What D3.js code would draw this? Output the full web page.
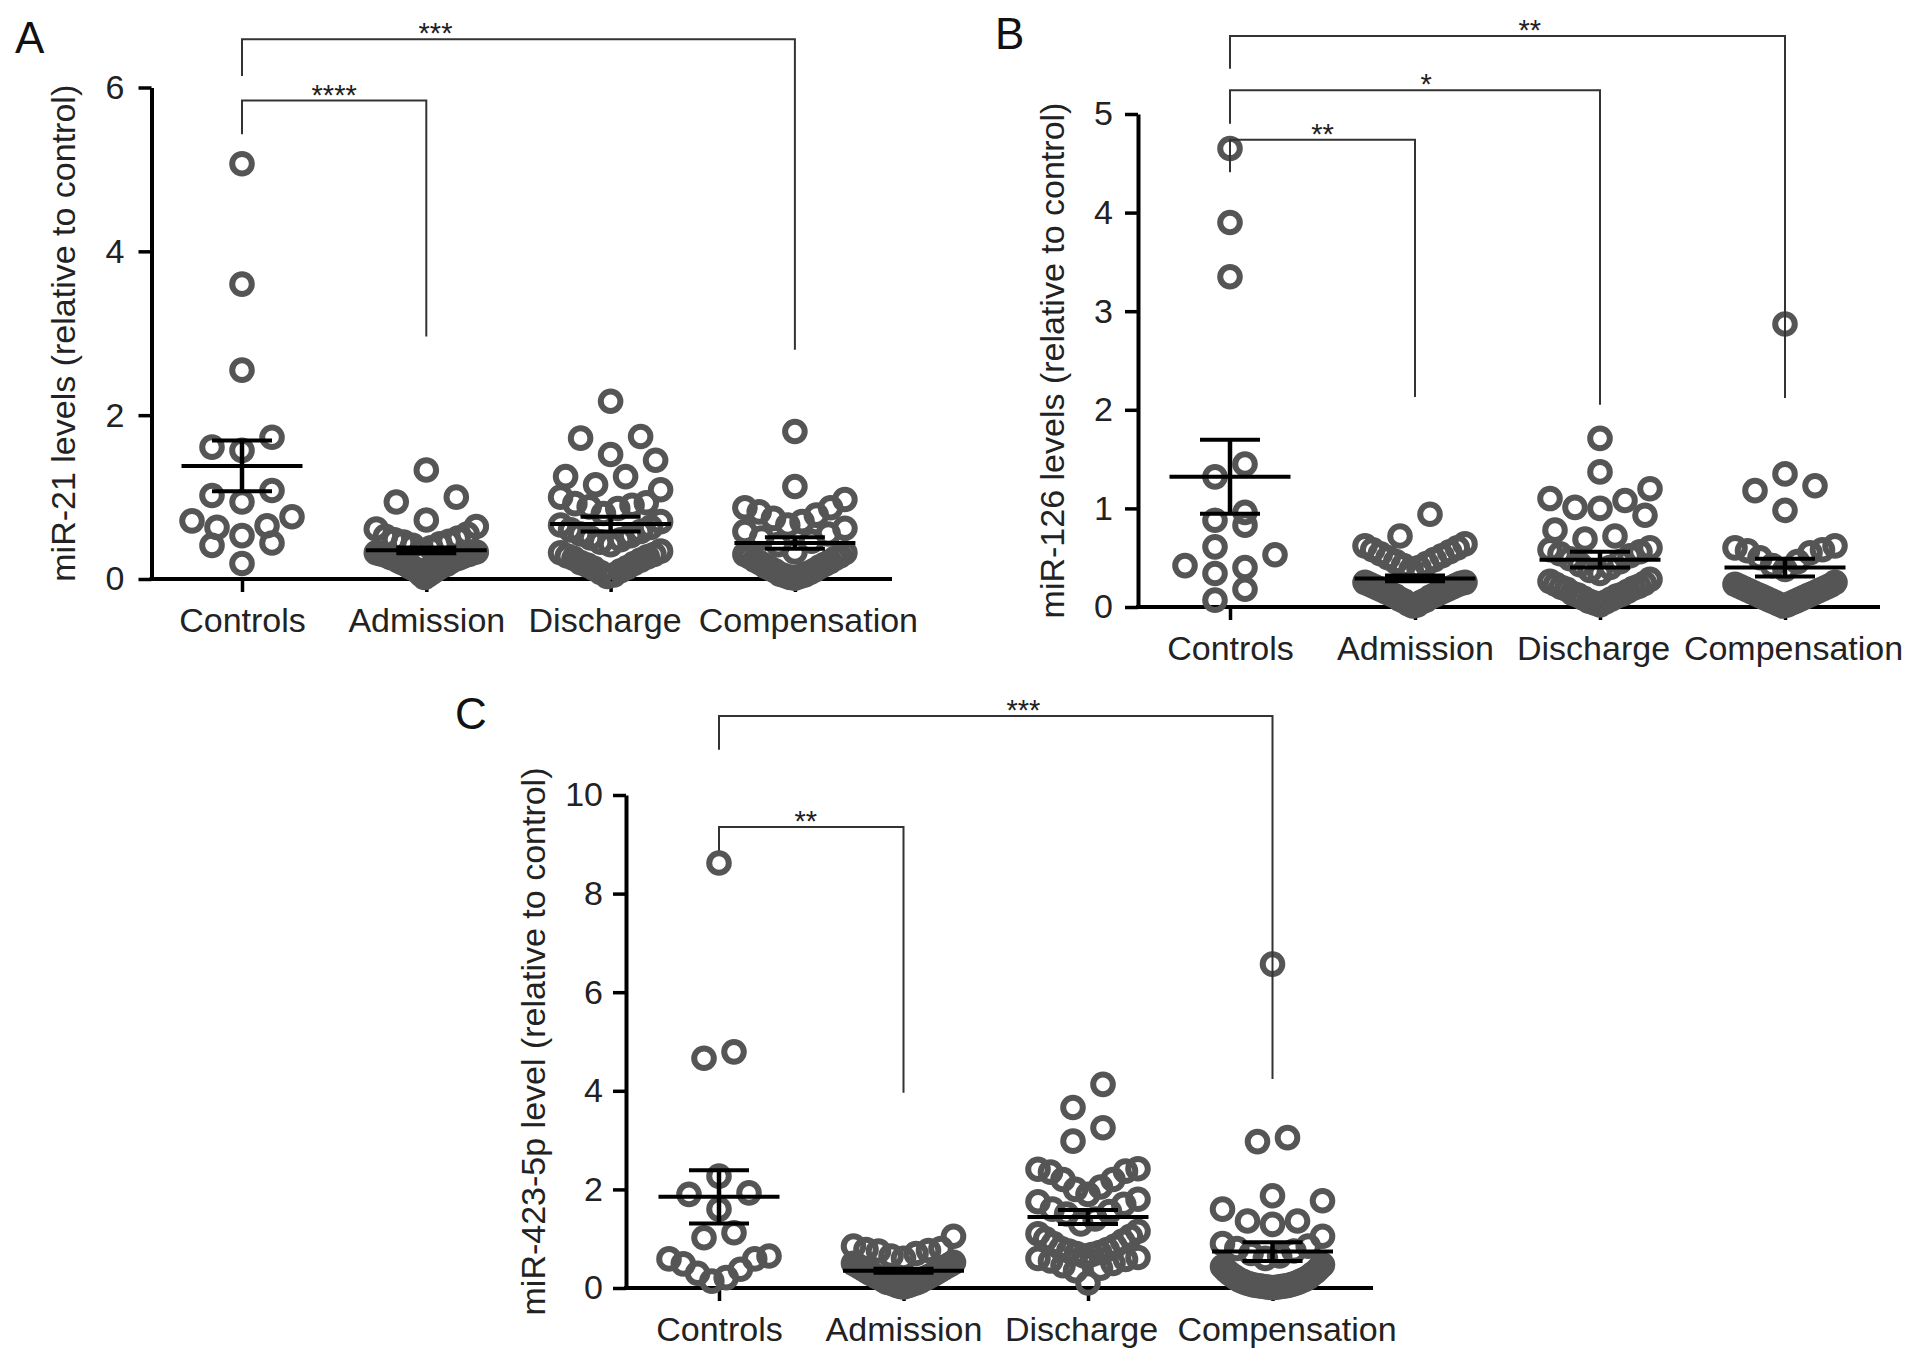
<!DOCTYPE html>
<html>
<head>
<meta charset="utf-8">
<script src="https://cdn.jsdelivr.net/npm/d3@7"></script>
<style>
  html, body { margin: 0; padding: 0; background: #fff; }
  svg { display: block; font-family: "Liberation Sans", Arial, Helvetica, sans-serif; }
</style>
</head>
<body>
<svg id="chart" width="1913" height="1361"></svg>
<script>
const groups = ["Controls", "Admission", "Discharge", "Compensation"];

// A - miR-21
const a_controls = [5.07, 3.6, 2.55, 1.73, 1.61, 1.57, 1.08, 1.02, 0.94, 0.76, 0.71, 0.65, 0.63, 0.53, 0.44, 0.41, 0.19];
const a_admission = [1.33, 1.0, 0.94, 0.72, 0.64, 0.61, 0.55, 0.52, 0.5, 0.48, 0.46, 0.45, 0.43, 0.41, 0.38, 0.34,
  0.33, 0.32, 0.32, 0.31, 0.3, 0.3, 0.29, 0.28, 0.27, 0.26, 0.25, 0.25, 0.24, 0.22, 0.21, 0.2, 0.18, 0.18,
  0.17, 0.15, 0.14, 0.13, 0.11, 0.1, 0.08, 0.06, 0.05, 0.02];
const a_discharge = [2.17, 1.74, 1.72, 1.52, 1.45, 1.25, 1.25, 1.15, 1.09, 1.0, 0.93, 0.92, 0.9, 0.88, 0.86, 0.8,
  0.7, 0.66, 0.63, 0.6, 0.58, 0.55, 0.53, 0.5, 0.48, 0.45, 0.42, 0.34, 0.32, 0.3, 0.28, 0.27, 0.25, 0.23,
  0.2, 0.19, 0.17, 0.14, 0.13, 0.1, 0.08, 0.05, 0.03];
const a_compensation = [1.8, 1.13, 0.97, 0.87, 0.87, 0.82, 0.78, 0.74, 0.7, 0.66, 0.62, 0.58, 0.55, 0.5, 0.46, 0.42,
  0.33, 0.32, 0.3, 0.28, 0.27, 0.25, 0.23, 0.21, 0.2, 0.18, 0.16, 0.15, 0.13, 0.11, 0.1, 0.08, 0.06, 0.05,
  0.04, 0.03, 0.02, 0.01];
const a_means = [1.38, 0.35, 0.67, 0.44];
const a_sems = [0.31, 0.035, 0.09, 0.07];
const a_ticks = [0, 2, 4, 6];
const a_stars = ["****", "***"];

// B - miR-126
const b_controls = [4.65, 3.9, 3.35, 1.45, 1.32, 0.96, 0.88, 0.83, 0.61, 0.53, 0.42, 0.4, 0.34, 0.18, 0.07];
const b_admission = [0.94, 0.72, 0.64, 0.62, 0.6, 0.58, 0.56, 0.54, 0.52, 0.5, 0.48, 0.46, 0.44, 0.42, 0.4, 0.38,
  0.25, 0.25, 0.24, 0.23, 0.22, 0.21, 0.2, 0.19, 0.18, 0.17, 0.16, 0.15, 0.14, 0.13, 0.12, 0.11, 0.1,
  0.08, 0.07, 0.06, 0.05, 0.03, 0.02, 0.01];
const b_discharge = [1.71, 1.37, 1.2, 1.1, 1.08, 1.01, 1.0, 0.93, 0.78, 0.72, 0.69, 0.6, 0.58, 0.56, 0.54, 0.52,
  0.49, 0.46, 0.43, 0.4, 0.37, 0.34, 0.28, 0.26, 0.24, 0.23, 0.21, 0.2, 0.19, 0.18, 0.16, 0.14, 0.13,
  0.12, 0.11, 0.09, 0.08, 0.06, 0.05, 0.04, 0.02];
const b_compensation = [2.87, 1.35, 1.23, 1.18, 0.98, 0.62, 0.6, 0.58, 0.57, 0.55, 0.5, 0.46, 0.42, 0.38,
  0.25, 0.23, 0.22, 0.21, 0.2, 0.19, 0.18, 0.17, 0.16, 0.15, 0.14, 0.13, 0.12, 0.11, 0.1, 0.09, 0.08,
  0.07, 0.06, 0.05, 0.04, 0.03, 0.02, 0.01];
const b_means = [1.32, 0.29, 0.48, 0.4];
const b_sems = [0.375, 0.03, 0.08, 0.09];
const b_ticks = [0, 1, 2, 3, 4, 5];
const b_stars = ["**", "*", "**"];

// C - miR-423-5p
const c_controls = [8.62, 4.79, 4.66, 2.27, 1.93, 1.9, 1.6, 1.12, 1.02, 0.65, 0.59, 0.59, 0.49, 0.38, 0.3, 0.21, 0.14];
const c_admission = [1.05, 0.85, 0.8, 0.78, 0.76, 0.75, 0.7, 0.65, 0.6, 0.52, 0.5, 0.48, 0.46, 0.44, 0.42, 0.4,
  0.38, 0.36, 0.34, 0.32, 0.3, 0.28, 0.27, 0.25, 0.23, 0.21, 0.2, 0.18, 0.16, 0.14, 0.12, 0.11, 0.1,
  0.09, 0.08, 0.06, 0.05, 0.04, 0.03, 0.02];
const c_discharge = [4.13, 3.66, 3.25, 2.98, 2.42, 2.41, 2.37, 2.35, 2.2, 2.2, 2.05, 2.0, 1.9, 1.8, 1.75, 1.7,
  1.6, 1.55, 1.5, 1.4, 1.3, 1.15, 1.1, 1.05, 1.0, 0.95, 0.9, 0.85, 0.8, 0.78, 0.75, 0.72, 0.7, 0.68,
  0.65, 0.62, 0.6, 0.58, 0.55, 0.5, 0.45, 0.4, 0.35, 0.1];
const c_compensation = [6.57, 3.05, 2.97, 1.87, 1.77, 1.6, 1.36, 1.36, 1.29, 1.05, 0.9, 0.85, 0.8, 0.75, 0.7, 0.65,
  0.6, 0.47, 0.43, 0.4, 0.36, 0.33, 0.3, 0.28, 0.25, 0.22, 0.2, 0.18, 0.16, 0.15, 0.13, 0.12, 0.1,
  0.09, 0.08, 0.07, 0.06, 0.05, 0.05, 0.04, 0.04, 0.03, 0.03, 0.02, 0.02, 0.01, 0.01];
const c_means = [1.85, 0.35, 1.44, 0.74];
const c_sems = [0.54, 0.04, 0.14, 0.19];
const c_ticks = [0, 2, 4, 6, 8, 10];
const c_stars = ["**", "***"];

// layout of each panel (pixels, and bracket heights in axis units)
const panels = [
  {
    letter: "A", letterX: 15, letterY: 53,
    title: "miR-21 levels (relative to control)", titleX: 75,
    axisX: 151.5, top: 87.5, bottom: 579, yMax: 6, first: 242, step: 184.3, axisEnd: 892,
    tickPad: 14, labelShift: [0, 0, -6, 13],
    series: [a_controls, a_admission, a_discharge, a_compensation],
    means: a_means, sems: a_sems, ticks: a_ticks,
    brackets: [
      { to: 1, line: 5.84, leftLeg: 5.43, rightLeg: 2.96, at: 0.5, stars: a_stars[0] },
      { to: 3, line: 6.59, leftLeg: 6.14, rightLeg: 2.8, at: 0.35, stars: a_stars[1] }
    ]
  },
  {
    letter: "B", letterX: 995, letterY: 49,
    title: "miR-126 levels (relative to control)", titleX: 1064,
    axisX: 1138, top: 114, bottom: 607, yMax: 5, first: 1230, step: 185, axisEnd: 1880,
    tickPad: 12, labelShift: [0, 0, -7, 8],
    series: [b_controls, b_admission, b_discharge, b_compensation],
    means: b_means, sems: b_sems, ticks: b_ticks,
    brackets: [
      { to: 1, line: 4.74, leftLeg: 4.41, rightLeg: 2.13, at: 0.5, stars: b_stars[0] },
      { to: 2, line: 5.24, leftLeg: 4.9, rightLeg: 2.05, at: 0.53, stars: b_stars[1] },
      { to: 3, line: 5.79, leftLeg: 5.46, rightLeg: 2.12, at: 0.54, stars: b_stars[2] }
    ]
  },
  {
    letter: "C", letterX: 455, letterY: 729,
    title: "miR-423-5p level (relative to control)", titleX: 545,
    axisX: 626, top: 795, bottom: 1288, yMax: 10, first: 719, step: 184.5, axisEnd: 1373,
    tickPad: 10, labelShift: [0, 0, -7, 14],
    series: [c_controls, c_admission, c_discharge, c_compensation],
    means: c_means, sems: c_sems, ticks: c_ticks,
    brackets: [
      { to: 1, line: 9.35, leftLeg: 8.87, rightLeg: 3.96, at: 0.47, stars: c_stars[0] },
      { to: 3, line: 11.6, leftLeg: 10.92, rightLeg: 4.24, at: 0.55, stars: c_stars[1] }
    ]
  }
];

const ROW_H = 26;     // points closer than this (vertically) share a row
const DOT_GAP = 30;   // spacing between dots in a sparse row
const HALF_W = 50;    // max half width of a column
const R = 9.8;

const svg = d3.select("#chart");

// prism-like column scatter: rows of close values, lowest value in the middle
function swarm(values, y, cx) {
  const sorted = values.slice().sort((p, q) => p - q);
  const pts = [];
  let i = 0;
  while (i < sorted.length) {
    const start = y(sorted[i]);
    const row = [];
    while (i < sorted.length && start - y(sorted[i]) < ROW_H) {
      row.push(sorted[i]);
      i++;
    }
    const n = row.length;
    const step = n > 1 ? Math.min(DOT_GAP, 2 * HALF_W / (n - 1)) : 0;
    const slots = d3.range(n)
      .map(k => (k - (n - 1) / 2) * step)
      .sort((p, q) => Math.abs(p) - Math.abs(q) || p - q);
    row.forEach((v, k) => pts.push({ v: v, x: cx + slots[k], y: y(v) }));
  }
  return pts;
}

function drawPanel(p) {
  const g = svg.append("g");
  const y = d3.scaleLinear().domain([0, p.yMax]).range([p.bottom, p.top]);
  const x = d3.scalePoint().domain(groups).range([p.first, p.first + 3 * p.step]);

  // y axis
  const ya = g.append("g")
    .attr("transform", "translate(" + p.axisX + ",0)")
    .call(d3.axisLeft(y).tickValues(p.ticks).tickFormat(d3.format("d"))
      .tickSize(13).tickSizeOuter(0).tickPadding(p.tickPad));
  ya.select(".domain").attr("stroke", "#000").attr("stroke-width", 4);
  ya.selectAll(".tick line").attr("stroke", "#000").attr("stroke-width", 3.5);
  ya.selectAll(".tick text")
    .attr("font-size", 34).attr("fill", "#222")
    .attr("font-family", "'Liberation Sans', Arial, sans-serif");

  // x axis
  const xa = g.append("g")
    .attr("transform", "translate(0," + p.bottom + ")")
    .call(d3.axisBottom(x).tickSize(13).tickSizeOuter(0).tickPadding(16));
  xa.select(".domain").remove();
  xa.selectAll(".tick line").attr("stroke", "#000").attr("stroke-width", 3.5);
  xa.selectAll(".tick text")
    .attr("dx", (d, i) => p.labelShift[i])
    .attr("font-size", 34).attr("fill", "#222")
    .attr("font-family", "'Liberation Sans', Arial, sans-serif");
  g.append("line")
    .attr("x1", p.axisX - 2).attr("x2", p.axisEnd)
    .attr("y1", y(0)).attr("y2", y(0))
    .attr("stroke", "#000").attr("stroke-width", 4);

  // axis title
  g.append("text")
    .attr("transform", "translate(" + p.titleX + "," + (p.top + p.bottom) / 2 + ") rotate(-90)")
    .attr("text-anchor", "middle")
    .attr("font-size", 34)
    .attr("fill", "#222")
    .text(p.title);

  // panel letter
  g.append("text")
    .attr("x", p.letterX).attr("y", p.letterY)
    .attr("font-size", 44)
    .attr("fill", "#111")
    .text(p.letter);

  // dots
  p.series.forEach(function (vals, gi) {
    const pts = swarm(vals, y, x(groups[gi]));
    g.append("g").selectAll("circle")
      .data(pts)
      .enter()
      .append("circle")
      .attr("cx", d => d.x)
      .attr("cy", d => d.y)
      .attr("r", R)
      .attr("fill", "none")
      .attr("stroke", "#555")
      .attr("stroke-width", 6);
  });

  // mean and SEM
  const bars = g.append("g").attr("stroke", "#000");
  groups.forEach(function (name, gi) {
    const cx = x(name);
    const m = p.means[gi], s = p.sems[gi];
    bars.append("line")
      .attr("x1", cx).attr("x2", cx)
      .attr("y1", y(m - s)).attr("y2", y(m + s))
      .attr("stroke-width", 4.5);
    [m - s, m + s].forEach(function (v) {
      bars.append("line")
        .attr("x1", cx - 30).attr("x2", cx + 30)
        .attr("y1", y(v)).attr("y2", y(v))
        .attr("stroke-width", 4);
    });
    bars.append("line")
      .attr("x1", cx - 60.5).attr("x2", cx + 60.5)
      .attr("y1", y(m)).attr("y2", y(m))
      .attr("stroke-width", 4);
  });

  // significance brackets
  p.brackets.forEach(function (b) {
    const x0 = x(groups[0]), x1 = x(groups[b.to]);
    g.append("path")
      .attr("d", "M" + x0 + "," + y(b.leftLeg) + "V" + y(b.line) + "H" + x1 + "V" + y(b.rightLeg))
      .attr("fill", "none")
      .attr("stroke", "#333")
      .attr("stroke-width", 2);
    g.append("text")
      .attr("x", x0 + b.at * (x1 - x0))
      .attr("y", y(b.line) + 4)
      .attr("text-anchor", "middle")
      .attr("font-size", 29)
      .attr("fill", "#222")
      .text(b.stars);
  });
}

panels.forEach(drawPanel);
</script>
</body>
</html>
